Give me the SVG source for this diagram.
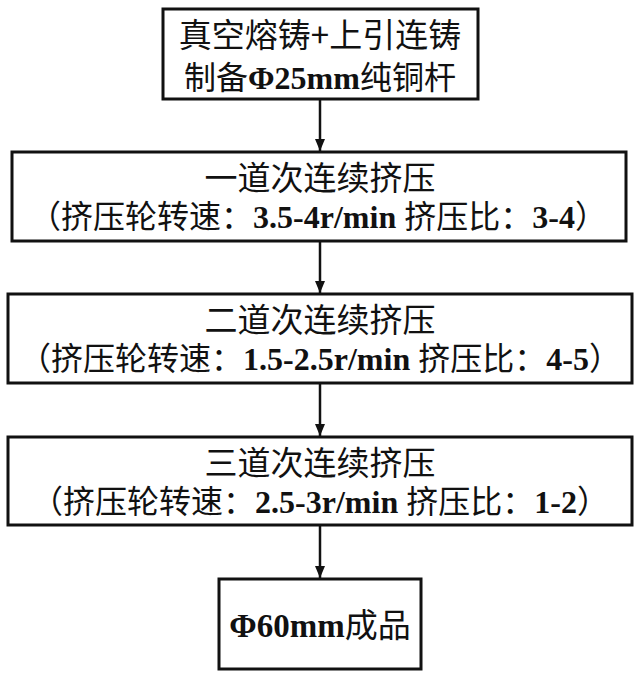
<svg xmlns="http://www.w3.org/2000/svg" width="640" height="678" viewBox="0 0 640 678">
<defs>
<style>
.box{fill:#fff;stroke:#111;stroke-width:3}
.t{font-family:"Liberation Serif","Noto Sans CJK SC",serif;font-size:32px;fill:#111;text-anchor:middle}
.c{font-family:"Noto Sans CJK SC","Liberation Serif",sans-serif;font-weight:normal}
.n{font-family:"Liberation Serif",serif;font-weight:bold}
.line{stroke:#111;stroke-width:2.5;fill:none}
</style>
<marker id="ah" viewBox="0 0 12 10" refX="12" refY="5" markerWidth="12" markerHeight="10" markerUnits="userSpaceOnUse" orient="auto">
<path d="M0,0 L12,5 L0,10 Z" fill="#111"/>
</marker>
</defs>
<rect width="640" height="678" fill="#fff"/>
<g id="connectors">
<line class="line" x1="320" y1="100" x2="320" y2="151" marker-end="url(#ah)"/>
<line class="line" x1="320" y1="242" x2="320" y2="293" marker-end="url(#ah)"/>
<line class="line" x1="320" y1="384" x2="320" y2="436" marker-end="url(#ah)"/>
<line class="line" x1="320" y1="526" x2="320" y2="578" marker-end="url(#ah)"/>
</g>
<g id="node1">
<rect class="box" x="163" y="9" width="315" height="90"/>
<text class="t c" x="320" y="47" style="font-size:33px">真空熔铸+上引连铸</text>
<text class="t" x="320" y="89"><tspan class="c">制备</tspan><tspan class="n">Φ25mm</tspan><tspan class="c">纯铜杆</tspan></text>
</g>
<g id="node2">
<rect class="box" x="12" y="152" width="614" height="89"/>
<text class="t c" x="320" y="190" style="font-size:33px">一道次连续挤压</text>
<text class="t" x="318" y="228"><tspan class="c">（挤压轮转速：</tspan><tspan class="n">3.5-4r/min </tspan><tspan class="c">挤压比：</tspan><tspan class="n">3-4</tspan><tspan class="c">）</tspan></text>
</g>
<g id="node3">
<rect class="box" x="8" y="294" width="624" height="89"/>
<text class="t c" x="320" y="332" style="font-size:33px">二道次连续挤压</text>
<text class="t" x="320" y="370"><tspan class="c">（挤压轮转速：</tspan><tspan class="n">1.5-2.5r/min </tspan><tspan class="c">挤压比：</tspan><tspan class="n">4-5</tspan><tspan class="c">）</tspan></text>
</g>
<g id="node4">
<rect class="box" x="8" y="437" width="624" height="88"/>
<text class="t c" x="320" y="475" style="font-size:33px">三道次连续挤压</text>
<text class="t" x="320" y="513"><tspan class="c">（挤压轮转速：</tspan><tspan class="n">2.5-3r/min </tspan><tspan class="c">挤压比：</tspan><tspan class="n">1-2</tspan><tspan class="c">）</tspan></text>
</g>
<g id="node5">
<rect class="box" x="219" y="579" width="202" height="90"/>
<text class="t" x="320" y="637" style="font-size:33px"><tspan class="n">Φ60mm</tspan><tspan class="c">成品</tspan></text>
</g>
</svg>
